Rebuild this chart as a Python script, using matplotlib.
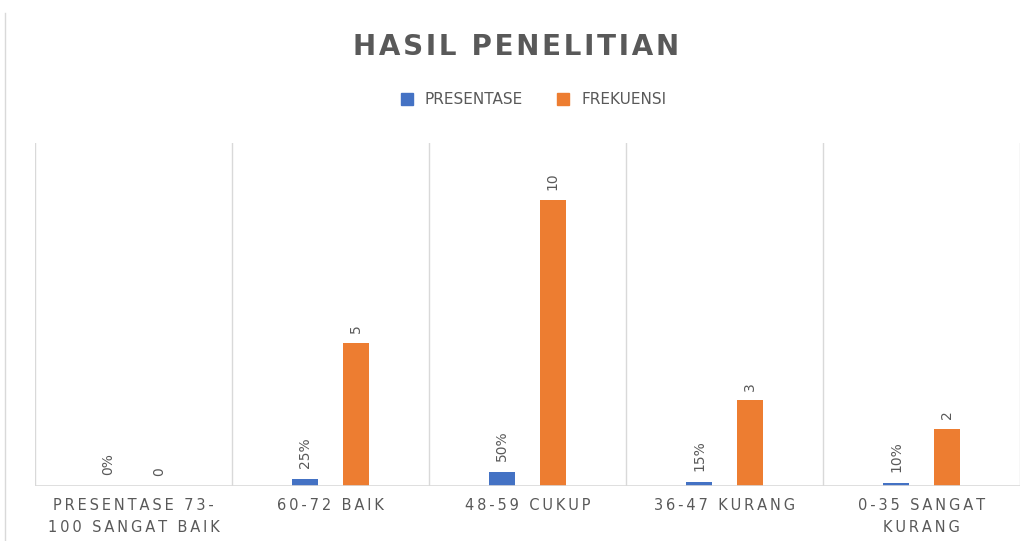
import matplotlib
matplotlib.use("Agg")
import matplotlib.pyplot as plt
from matplotlib.lines import Line2D
import numpy as np

categories = ["PRESENTASE 73-\n100 SANGAT BAIK", "60-72 BAIK", "48-59 CUKUP", "36-47 KURANG", "0-35 SANGAT\nKURANG"]
presentase = [0.0, 0.25, 0.50, 0.15, 0.10]
presentase_labels = ["0%", "25%", "50%", "15%", "10%"]
frekuensi = [0, 5, 10, 3, 2]
frekuensi_labels = ["0", "5", "10", "3", "2"]

BLUE = "#4472C4"
ORANGE = "#ED7D31"
TXT = "#595959"
GRID = "#D9D9D9"

def spaced(s, sp="\u200a"):
    return "\n".join(sp.join(list(line)) for line in s.split("\n"))

fig = plt.figure(figsize=(10.33, 5.41), dpi=100)
ax = fig.add_axes([35/1033, 55/541, 985/1033, 343/541])

x = np.arange(len(categories))
w = 0.133
off = 0.128
b1 = ax.bar(x - off, presentase, w, color=BLUE, zorder=3)
b2 = ax.bar(x + off, frekuensi, w, color=ORANGE, zorder=3)

for xi, v, lab in zip(x, presentase, presentase_labels):
    ax.annotate(lab, (xi - off, v), xytext=(0, 8), textcoords="offset points",
                rotation=90, ha="center", va="bottom", color=TXT, fontsize=10)
for xi, v, lab in zip(x, frekuensi, frekuensi_labels):
    ax.annotate(lab, (xi + off, v), xytext=(0, 7), textcoords="offset points",
                rotation=90, ha="center", va="bottom", color=TXT, fontsize=10)

ax.set_xlim(-0.5, len(categories) - 0.5)
ax.set_ylim(0, 12)
for b in np.arange(-0.5, len(categories), 1.0):
    ax.axvline(b, color=GRID, lw=1, zorder=1)
ax.axhline(0, color=GRID, lw=1.2, zorder=4)
for s in ax.spines.values():
    s.set_visible(False)
ax.set_yticks([])
ax.set_xticks(x)
ax.set_xticklabels([spaced(c, "\u2009") for c in categories], color=TXT, fontsize=10.5, linespacing=1.5)
ax.tick_params(axis="x", length=0, pad=9)

fig.text(0.5, 1 - 47/541, spaced("HASIL PENELITIAN", "\u200a"), ha="center", va="center",
         fontsize=20, fontweight="bold", color=TXT)

handles = [Line2D([], [], marker="s", ls="", color=BLUE, markersize=8),
           Line2D([], [], marker="s", ls="", color=ORANGE, markersize=8)]
fig.legend(handles, ["PRESENTASE", "FREKUENSI"], loc="center", bbox_to_anchor=(0.512, 1 - 100/541),
           ncol=2, frameon=False, fontsize=11, labelcolor=TXT, handletextpad=0.2, columnspacing=1.6)

fig.add_artist(Line2D([5/1033, 5/1033], [0, 1 - 13/541], color=GRID, lw=1, transform=fig.transFigure))

fig.savefig("out.png", dpi=100)
